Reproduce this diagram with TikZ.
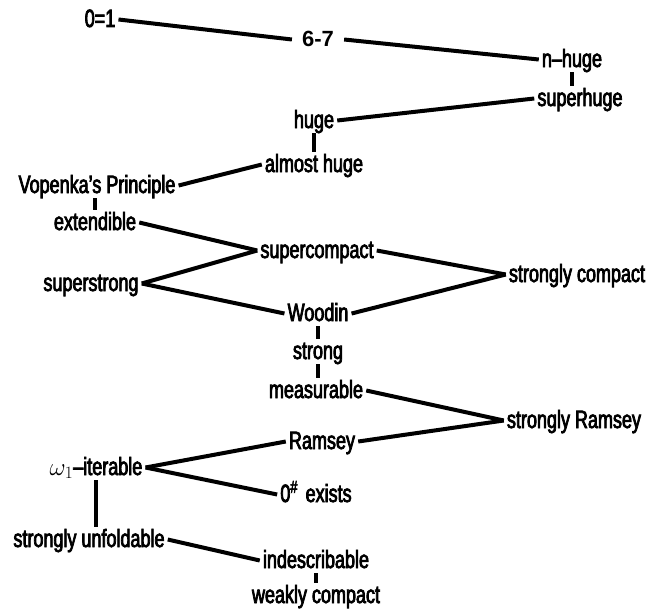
\documentclass[tikz,border=0pt]{standalone}
\usepackage{fontspec}
\setmainfont[FakeStretch=0.72, FakeBold=3]{Liberation Sans}
\newfontfamily\plainfont{Liberation Sans}
\usetikzlibrary{positioning}

\tikzset{
  card/.style={anchor=base, inner xsep=3pt, inner ysep=5pt, text height=15pt, text depth=0pt,
    font=\fontsize{25}{27}\selectfont},
  link/.style={line width=4pt},
}

\begin{document}
\begin{tikzpicture}[x=1pt, y=-1pt]
    \useasboundingbox (0,0) rectangle (650,610);

    % top
    \node [card] (zero) at (100,27) {0=1};
    \node [card, inner xsep=10pt, font=\plainfont\bfseries\fontsize{22}{24}\selectfont] (sixseven) at (318,47) {6-7};
    \node [card] (nhuge) at (572,67) {n--huge};
    \node [card] (superhuge) at (580,106) {superhuge};
    \node [card] (huge) at (314,128) {huge};
    \node [card] (almosthuge) at (314,172) {almost huge};

    % middle
    \node [card] (vopenka) at (97,193) {Vopenka's Principle};
    \node [card] (extendible) at (95,230) {extendible};
    \node [card] (supercompact) at (317,258) {supercompact};
    \node [card] (stronglycompact) at (577,282) {strongly compact};
    \node [card] (superstrong) at (91,291) {superstrong};
    \node [card] (woodin) at (318,321) {Woodin};
    \node [card] (strong) at (318,359) {strong};
    \node [card] (measurable) at (316,398) {measurable};

    % bottom
    \node [card] (stronglyramsey) at (574,428) {strongly Ramsey};
    \node [card] (ramsey) at (322,449) {Ramsey};
    \node [card] (iterable) at (96,475) {$\omega_1$--iterable};
    \node [card] (zerosharp) at (316,502) {0$^\#$ exists};
    \node [card] (unfoldable) at (89,547) {strongly unfoldable};
    \node [card] (indescribable) at (316,568) {indescribable};
    \node [card] (weaklycompact) at (316,603) {weakly compact};

    \draw [link] (zero.east) -- (sixseven.west);
    \draw [link] (sixseven.east) -- (nhuge.west);
    \draw [link] (nhuge.south) -- (nhuge.south |- superhuge.north);
    \draw [link] (superhuge.west) -- (huge.east);
    \draw [link] (huge.south) -- (huge.south |- almosthuge.north);
    \draw [link] (almosthuge.west) -- (vopenka.east);
    \draw [link] (extendible.north |- vopenka.south) -- (extendible.north);
    \draw [link] (extendible.east) -- (supercompact.west);
    \draw [link] (superstrong.east) -- (supercompact.west);
    \draw [link] (supercompact.east) -- (stronglycompact.west);
    \draw [link] (superstrong.east) -- (woodin.west);
    \draw [link] (woodin.east) -- (stronglycompact.west);
    \draw [link] (woodin.south) -- (woodin.south |- strong.north);
    \draw [link] (strong.south) -- (strong.south |- measurable.north);
    \draw [link] (measurable.east) -- (stronglyramsey.west);
    \draw [link] (ramsey.east) -- (stronglyramsey.west);
    \draw [link] (iterable.east) -- (ramsey.west);
    \draw [link] (iterable.east) -- (zerosharp.west);
    \draw [link] (iterable.south) -- (iterable.south |- unfoldable.north);
    \draw [link] (unfoldable.east) -- (indescribable.west);
    \draw [link] (indescribable.south) -- (indescribable.south |- weaklycompact.north);
\end{tikzpicture}
\end{document}
